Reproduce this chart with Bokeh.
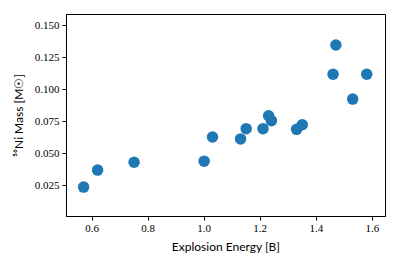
from bokeh.plotting import figure
from bokeh.models import FixedTicker, NumeralTickFormatter, Range1d
from bokeh.embed import file_html
from bokeh.resources import INLINE

# Data
explosion_energy = [0.57, 0.62, 0.75, 1.00, 1.03, 1.13, 1.15, 1.21, 1.23, 1.24,
                    1.33, 1.35, 1.46, 1.47, 1.53, 1.58]
ni_mass = [0.0235, 0.0368, 0.0430, 0.0438, 0.0628, 0.0613, 0.0693, 0.0693, 0.0795, 0.0756,
           0.0688, 0.0724, 0.1120, 0.1350, 0.0925, 0.1120]
x_ticks = [0.6, 0.8, 1.0, 1.2, 1.4, 1.6]
y_ticks = [0.025, 0.050, 0.075, 0.100, 0.125, 0.150]

p = figure(width=392, height=257, output_backend="svg", toolbar_location=None,
           x_range=Range1d(0.509, 1.647), y_range=Range1d(0.0004, 0.1589),
           min_border_left=66, min_border_right=7, min_border_top=14, min_border_bottom=41)

p.scatter(explosion_energy, ni_mass, size=11.5, fill_color="#1f77b4", line_color=None)

p.grid.visible = False
p.outline_line_color = "black"
p.outline_line_width = 1
p.outline_line_alpha = 1

p.axis.axis_line_color = "black"
p.axis.major_tick_line_color = "black"
p.axis.minor_tick_line_color = None
p.axis.major_tick_out = 4
p.axis.major_tick_in = 0
p.axis.major_label_text_font = "Liberation Serif"
p.axis.major_label_text_font_size = "11px"
p.axis.major_label_text_color = "black"
p.axis.axis_label_text_font = "Lato"
p.axis.axis_label_text_font_size = "12px"
p.axis.axis_label_text_font_style = "normal"
p.axis.axis_label_text_color = "black"

p.xaxis.ticker = FixedTicker(ticks=x_ticks)
p.yaxis.ticker = FixedTicker(ticks=y_ticks)
p.xaxis.formatter = NumeralTickFormatter(format="0.0")
p.yaxis.formatter = NumeralTickFormatter(format="0.000")
p.xaxis.axis_label = "Explosion Energy [B]"
p.yaxis.axis_label = "⁵⁶Ni Mass [M☉]"
p.xaxis.major_label_standoff = 4
p.yaxis.major_label_standoff = 3
p.xaxis.axis_label_standoff = 4
p.yaxis.axis_label_standoff = 6

open("out.html", "w").write(file_html(p, INLINE))
